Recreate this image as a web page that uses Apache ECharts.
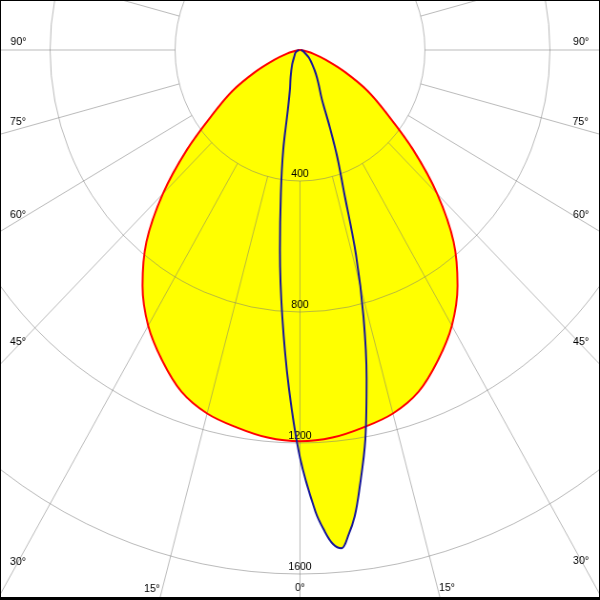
<!DOCTYPE html>
<html><head><meta charset="utf-8">
<script src="https://cdn.jsdelivr.net/npm/echarts@6/dist/echarts.min.js"></script>
<style>
html,body{margin:0;padding:0;background:#fff;overflow:hidden;}
#wrap{position:relative;width:600px;height:600px;overflow:hidden;background:#fff;}
#chart{position:absolute;left:0;top:0;width:629px;height:600px;transform:scaleX(0.95390);transform-origin:0 0;}
#frame{position:absolute;left:0;top:0;width:600px;height:600px;box-sizing:border-box;border:1px solid #000;border-bottom:3px solid #000;pointer-events:none;}
</style></head>
<body><div id="wrap"><div id="chart"></div><div id="frame"></div></div>
<script>
// ---- data (angles in degrees, 0 = straight down, positive to the right; values in cd) ----
const redAngles  = [-90,-85,-80,-75,-70,-65,-60,-55,-50,-45,-40,-35,-30,-25,-20,-15,-10,-5,0,5,10,15,20,25,30,35,40,45,50,55,60,65,70,75,80,85,90];
const redValues  = [0,3,14,45,88,158,250,340,471,621,765,879,972,1045,1110,1149,1170,1188,1195,1188,1170,1149,1110,1045,972,879,765,621,471,340,250,158,88,45,14,3,0];
const blueAngles = [-90,-75,-60,-45,-30,-20,-15,-12,-10,-8,-6,-4,-2,0,2,3,4,5,6,7,8,10,12,14,16,18,20,22,25,30,35,40,50,60,75,90];
const blueValues = [3,8,17,25,50,88,125,188,310,440,615,815,1030,1245,1410,1468,1512,1527,1488,1435,1360,1205,1025,840,650,455,350,255,165,118,88,65,38,18,8,3];
const radiusTickLabels = ['400','800','1200','1600'];
const angleTickLabels  = ['90°','75°','60°','45°','30°','15°','0°','15°','30°','45°','60°','75°','90°'];

// ---- layout ----
const S = 0.95390;            // horizontal squash of the picture
const CX = 300 / S, CY = 50;  // pole position
const PX_PER_CD = 131 / 400;
const RMAX = 2000;
const labelPos = [[18.5,42],[18,121.5],[18,215],[18,342],[18,561.5],[152,588.5],[300,588],[447,588],[581,561],[581,342],[581,215],[580.5,121.5],[581,42]];
const gridColor = 'rgba(120,120,120,0.5)';
const font = 'Liberation Sans, Arial, sans-serif';
const SMOOTH = 0.35;

const chart = echarts.init(document.getElementById('chart'), null, {renderer:'canvas'});
const option = {
  animation: false,
  backgroundColor: '#fff',
  polar: [
    {center: [CX, CY], radius: [400 * PX_PER_CD, RMAX * PX_PER_CD]},
    {center: [CX, CY], radius: [0, RMAX * PX_PER_CD]}
  ],
  angleAxis: [
    {polarIndex: 0, type: 'value', min: 0, max: 360, interval: 15, startAngle: 270, z: 3,
     axisLine: {show: false}, axisTick: {show: false}, axisLabel: {show: false},
     splitLine: {show: true, lineStyle: {color: gridColor, width: 1}}},
    {polarIndex: 1, type: 'value', min: -180, max: 180, startAngle: 90, clockwise: false, show: false}
  ],
  radiusAxis: [
    {polarIndex: 0, type: 'value', min: 400, max: RMAX, interval: 400, z: 3,
     axisLine: {show: false}, axisTick: {show: false},
     splitLine: {show: true, lineStyle: {color: gridColor, width: 1}},
     axisLabel: {show: true, color: '#000', fontSize: 11, fontFamily: font, margin: 0,
       align: 'center', verticalAlign: 'bottom', padding: [0, 0, 2, 0],
       formatter: v => radiusTickLabels.indexOf(String(v)) >= 0 ? String(v) : ''}},
    {polarIndex: 1, type: 'value', min: 0, max: RMAX, show: false}
  ],
  graphic: angleTickLabels.map((t, i) => ({
    type: 'text', x: labelPos[i][0] / S, y: labelPos[i][1], z: 10,
    style: {text: t, fill: '#000', font: '11px ' + font, textAlign: 'center', textVerticalAlign: 'middle'}
  })),
  series: [
    {name: 'fillA', type: 'line', coordinateSystem: 'polar', polarIndex: 1, z: 1, symbol: 'none', smooth: SMOOTH,
     data: redAngles.map((a, i) => [redValues[i], a]),
     lineStyle: {width: 0}, areaStyle: {color: '#ffff00', opacity: 1}},
    {name: 'fillB', type: 'line', coordinateSystem: 'polar', polarIndex: 1, z: 1, symbol: 'none', smooth: SMOOTH,
     data: blueAngles.map((a, i) => [blueValues[i], a]),
     lineStyle: {width: 0}, areaStyle: {color: '#ffff00', opacity: 1}},
    {name: 'C0-C180', type: 'line', coordinateSystem: 'polar', polarIndex: 1, z: 5, symbol: 'none', smooth: SMOOTH,
     data: redAngles.map((a, i) => [redValues[i], a]),
     lineStyle: {color: '#ff0000', width: 2}},
    {name: 'C90-C270', type: 'line', coordinateSystem: 'polar', polarIndex: 1, z: 6, symbol: 'none', smooth: SMOOTH,
     data: blueAngles.map((a, i) => [blueValues[i], a]),
     lineStyle: {color: '#16169a', width: 2}}
  ]
};
chart.setOption(option);
</script>
</body></html>
